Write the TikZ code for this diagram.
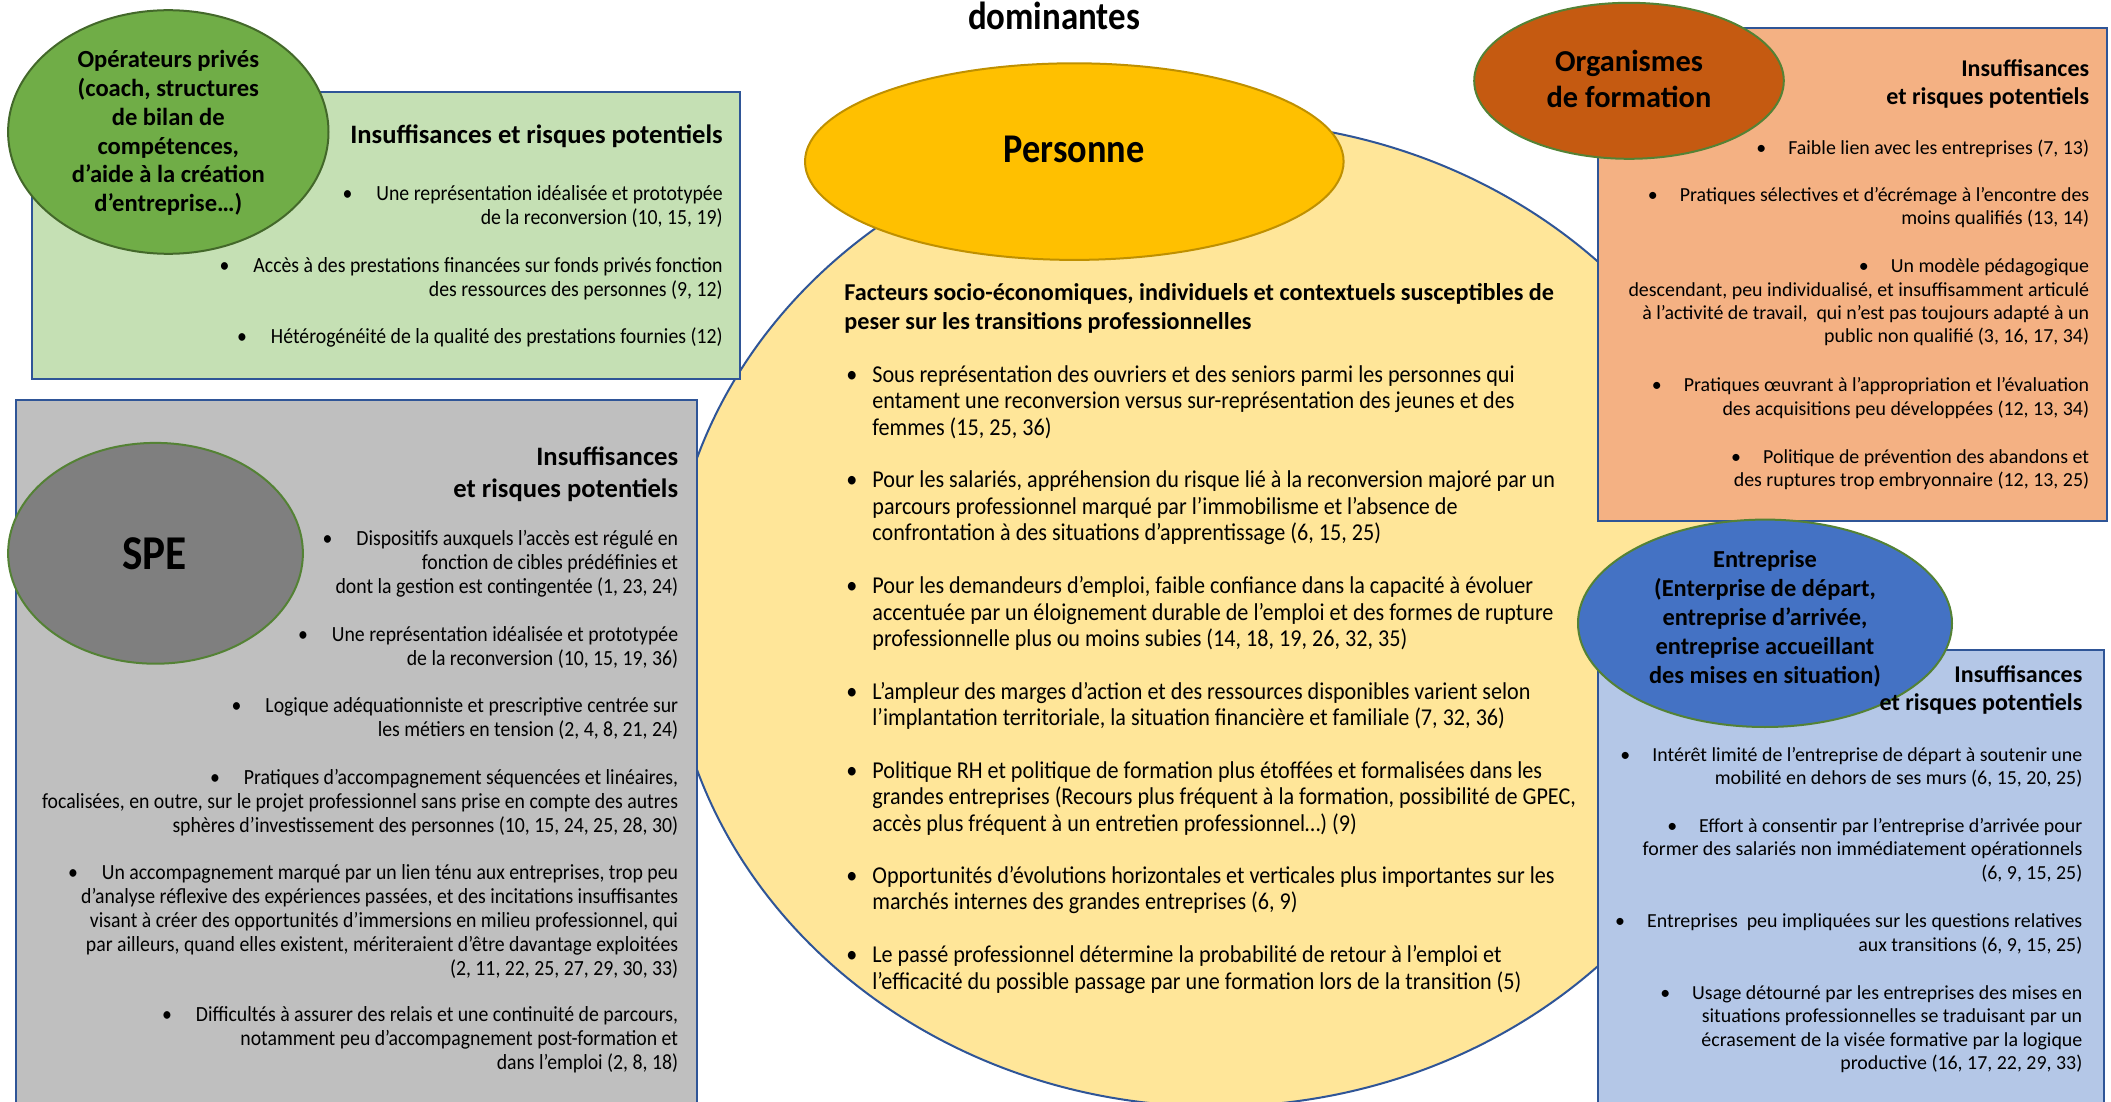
\documentclass[tikz,border=0pt]{standalone}
\usepackage{fontspec}
\setmainfont{Carlito}
\newfontfamily\cf[FakeStretch=0.915]{Carlito}
\newfontfamily\cfb[FakeStretch=0.89]{Carlito}
\usetikzlibrary{shapes.geometric}
\definecolor{bordblue}{HTML}{2F5597}
\definecolor{bordgreen}{HTML}{548235}
\definecolor{yellowlt}{HTML}{FFE699}
\definecolor{goldfill}{HTML}{FFC000}
\definecolor{goldbd}{HTML}{BF9000}
\definecolor{greenell}{HTML}{70AD47}
\definecolor{greenbox}{HTML}{C5E0B4}
\definecolor{greybox}{HTML}{BFBFBF}
\definecolor{greyell}{HTML}{7F7F7F}
\definecolor{orangeell}{HTML}{C55A11}
\definecolor{orangebox}{HTML}{F4B183}
\definecolor{blueell}{HTML}{4472C4}
\definecolor{bluebox}{HTML}{B4C7E7}
\newcommand{\rtab}[1]{\begin{tabular}{@{}r@{}}#1\end{tabular}}
\newcommand{\ctab}[1]{\begin{tabular}{@{}c@{}}#1\end{tabular}}
\newcommand{\ltab}[1]{\begin{tabular}{@{}l@{}}#1\end{tabular}}
\newcommand{\btab}[1]{\begin{tabular}{@{}p{13pt}@{}l@{}}#1\end{tabular}}
\newcommand{\bul}[1]{\textbullet\hspace{#1}}
\tikzset{
  boxshape/.style={rectangle, draw=bordblue, line width=1pt, inner sep=0pt, anchor=north west},
  ellshape/.style={ellipse, line width=1pt, inner sep=0pt},
  ltxt/.style={font=\cf\fontsize{10.8}{12}\selectfont, inner sep=0pt, anchor=east},
  lhead/.style={font=\bfseries\fontsize{13.3}{16}\selectfont, inner sep=0pt, anchor=east},
  rtxt/.style={font=\fontsize{9.95}{11.7}\selectfont, inner sep=0pt, anchor=east},
  rhead/.style={font=\bfseries\fontsize{12}{14}\selectfont, inner sep=0pt, anchor=east},
  ctxt/.style={font=\cf\fontsize{12.1}{13.2}\selectfont, inner sep=0pt, anchor=west},
}
\begin{document}
\begin{tikzpicture}[x=0.5pt,y=-0.5pt]
\useasboundingbox (0,0) rectangle (2111,1102);
\clip (0,0) rectangle (2111,1102);
% shapes
\node[ellshape, draw=bordblue, fill=yellowlt, minimum width=546.6pt, minimum height=492.7pt] (yell) at (1215.7,613.9) {};
\node[ellshape, draw=goldbd, fill=goldfill, minimum width=269.3pt, minimum height=98.3pt] (pell) at (1074.3,161.6) {};
\node[boxshape, fill=greenbox, minimum width=354pt, minimum height=143.4pt] (gbox) at (31,91.5) {};
\node[ellshape, draw=bordgreen!80!black, fill=greenell, minimum width=160.2pt, minimum height=121.8pt] (gell) at (168.3,132) {};
\node[boxshape, fill=greybox, minimum width=340.6pt, minimum height=355.8pt] (sbox) at (14.8,398.5) {};
\node[ellshape, draw=bordgreen, fill=greyell, minimum width=147.4pt, minimum height=110.4pt] (sell) at (155.5,553.3) {};
\node[boxshape, fill=orangebox, minimum width=254.5pt, minimum height=246.4pt] (obox) at (1596.7,26.9) {};
\node[ellshape, draw=bordgreen, fill=orangeell, minimum width=154.8pt, minimum height=78pt] (oell) at (1629,80.8) {};
\node[boxshape, fill=bluebox, minimum width=253.1pt, minimum height=230.6pt] (bbox) at (1596.7,648.9) {};
\node[ellshape, draw=bordgreen, fill=blueell, minimum width=187pt, minimum height=103.7pt] (bell) at (1765,623.3) {};
% title and Personne
\node[font=\cfb\bfseries\fontsize{19.6}{24}\selectfont, inner sep=0pt, anchor=base] (title) at (1054,30) {dominantes};
\node[font=\cfb\bfseries\fontsize{20.4}{24}\selectfont, inner sep=0pt] (ptxt) at (1074.3,149.4) {Personne};
% green
\node[font=\bfseries\fontsize{12.3}{14.4}\selectfont, inner sep=0pt] (gtxt) at (168.3,134) {\ctab{Opérateurs privés\\(coach, structures\\de bilan de\\compétences,\\d’aide à la création\\d’entreprise…)}};
\node[lhead] (gh) at (723,137.3) {\rtab{Insuffisances et risques potentiels}};
\node[ltxt] (g1) at (723,208) {\rtab{\bul{12pt}Une représentation idéalisée et prototypée\\de la reconversion (10, 15, 19)}};
\node[ltxt] (g2) at (723,279.5) {\rtab{\bul{12pt}Accès à des prestations financées sur fonds privés fonction\\des ressources des personnes (9, 12)}};
\node[ltxt] (g3) at (723,338.7) {\rtab{\bul{12pt}Hétérogénéité de la qualité des prestations fournies (12)}};
% SPE
\node[font=\cfb\bfseries\fontsize{24.3}{28}\selectfont, inner sep=0pt] (stxt) at (154.8,553.3) {SPE};
\node[lhead] (sh) at (678.5,475) {\rtab{Insuffisances\\et risques potentiels}};
\node[ltxt] (s1) at (678.5,565) {\rtab{\bul{12pt}Dispositifs auxquels l’accès est régulé en\\fonction de cibles prédéfinies et\\dont la gestion est contingentée (1, 23, 24)}};
\node[ltxt] (s2) at (678.5,648.5) {\rtab{\bul{12pt}Une représentation idéalisée et prototypée\\de la reconversion (10, 15, 19, 36)}};
\node[ltxt] (s3) at (678.5,719.8) {\rtab{\bul{12pt}Logique adéquationniste et prescriptive centrée sur\\les métiers en tension (2, 4, 8, 21, 24)}};
\node[ltxt] (s4) at (678.5,803.3) {\rtab{\bul{12pt}Pratiques d’accompagnement séquencées et linéaires,\\focalisées, en outre, sur le projet professionnel sans prise en compte des autres\\sphères d’investissement des personnes (10, 15, 24, 25, 28, 30)}};
\node[ltxt] (s5) at (678.5,923) {\rtab{\bul{12pt}Un accompagnement marqué par un lien ténu aux entreprises, trop peu\\d’analyse réflexive des expériences passées, et des incitations insuffisantes\\visant à créer des opportunités d’immersions en milieu professionnel, qui\\par ailleurs, quand elles existent, mériteraient d’être davantage exploitées\\(2, 11, 22, 25, 27, 29, 30, 33)}};
\node[ltxt] (s6) at (678.5,1041) {\rtab{\bul{12pt}Difficultés à assurer des relais et une continuité de parcours,\\notamment peu d’accompagnement post-formation et\\dans l’emploi (2, 8, 18)}};
% centre
\node[font=\bfseries\fontsize{12.1}{14.8}\selectfont, inner sep=0pt, anchor=west] (ch) at (844,309) {\ltab{Facteurs socio-économiques, individuels et contextuels susceptibles de\\peser sur les transitions professionnelles}};
\node[ctxt] (c1) at (846,403.5) {\btab{\textbullet & Sous représentation des ouvriers et des seniors parmi les personnes qui\\ & entament une reconversion versus sur-représentation des jeunes et des\\ & femmes (15, 25, 36)}};
\node[ctxt] (c2) at (846,509) {\btab{\textbullet & Pour les salariés, appréhension du risque lié à la reconversion majoré par un\\ & parcours professionnel marqué par l’immobilisme et l’absence de\\ & confrontation à des situations d’apprentissage (6, 15, 25)}};
\node[ctxt] (c3) at (846,615) {\btab{\textbullet & Pour les demandeurs d’emploi, faible confiance dans la capacité à évoluer\\ & accentuée par un éloignement durable de l’emploi et des formes de rupture\\ & professionnelle plus ou moins subies (14, 18, 19, 26, 32, 35)}};
\node[ctxt] (c4) at (846,707) {\btab{\textbullet & L’ampleur des marges d’action et des ressources disponibles varient selon\\ & l’implantation territoriale, la situation financière et familiale (7, 32, 36)}};
\node[ctxt] (c5) at (846,799.4) {\btab{\textbullet & Politique RH et politique de formation plus étoffées et formalisées dans les\\ & grandes entreprises (Recours plus fréquent à la formation, possibilité de GPEC,\\ & accès plus fréquent à un entretien professionnel…) (9)}};
\node[ctxt] (c6) at (846,891.4) {\btab{\textbullet & Opportunités d’évolutions horizontales et verticales plus importantes sur les\\ & marchés internes des grandes entreprises (6, 9)}};
\node[ctxt] (c7) at (846,970.8) {\btab{\textbullet & Le passé professionnel détermine la probabilité de retour à l’emploi et\\ & l’efficacité du possible passage par une formation lors de la transition (5)}};
% organismes
\node[font=\bfseries\fontsize{15.2}{18}\selectfont, inner sep=0pt] (otxt) at (1629,82.5) {\ctab{Organismes\\de formation}};
\node[rhead] (oh) at (2089.5,85) {\rtab{Insuffisances\\et risques potentiels}};
\node[rtxt] (o1) at (2089.5,149.5) {\rtab{\bul{11pt}Faible lien avec les entreprises (7, 13)}};
\node[rtxt] (o2) at (2089.5,208.5) {\rtab{\bul{11pt}Pratiques sélectives et d’écrémage à l’encontre des\\moins qualifiés (13, 14)}};
\node[rtxt] (o3) at (2089.5,303.2) {\rtab{\bul{11pt}Un modèle pédagogique\\descendant, peu individualisé, et insuffisamment articulé\\à l’activité de travail,\ \ qui n’est pas toujours adapté à un\\public non qualifié (3, 16, 17, 34)}};
\node[rtxt] (o4) at (2089.5,399) {\rtab{\bul{11pt}Pratiques œuvrant à l’appropriation et l’évaluation\\des acquisitions peu développées (12, 13, 34)}};
\node[rtxt] (o5) at (2089.5,470.5) {\rtab{\bul{11pt}Politique de prévention des abandons et\\des ruptures trop embryonnaire (12, 13, 25)}};
% entreprise
\node[font=\bfseries\fontsize{12.2}{14.5}\selectfont, inner sep=0pt] (btxt) at (1765,620) {\ctab{Entreprise\\(Enterprise de départ,\\entreprise d’arrivée,\\entreprise accueillant\\des mises en situation)}};
\node[rhead] (bh) at (2082.7,691) {\rtab{Insuffisances\\et risques potentiels}};
\node[rtxt] (b1) at (2082.7,768.5) {\rtab{\bul{11pt}Intérêt limité de l’entreprise de départ à soutenir une\\mobilité en dehors de ses murs (6, 15, 20, 25)}};
\node[rtxt] (b2) at (2082.7,851.3) {\rtab{\bul{11pt}Effort à consentir par l’entreprise d’arrivée pour\\former des salariés non immédiatement opérationnels\\(6, 9, 15, 25)}};
\node[rtxt] (b3) at (2082.7,934.8) {\rtab{\bul{11pt}Entreprises\ \ peu impliquées sur les questions relatives\\aux transitions (6, 9, 15, 25)}};
\node[rtxt] (b4) at (2082.7,1029.7) {\rtab{\bul{11pt}Usage détourné par les entreprises des mises en\\situations professionnelles se traduisant par un\\écrasement de la visée formative par la logique\\productive (16, 17, 22, 29, 33)}};
\end{tikzpicture}
\end{document}
